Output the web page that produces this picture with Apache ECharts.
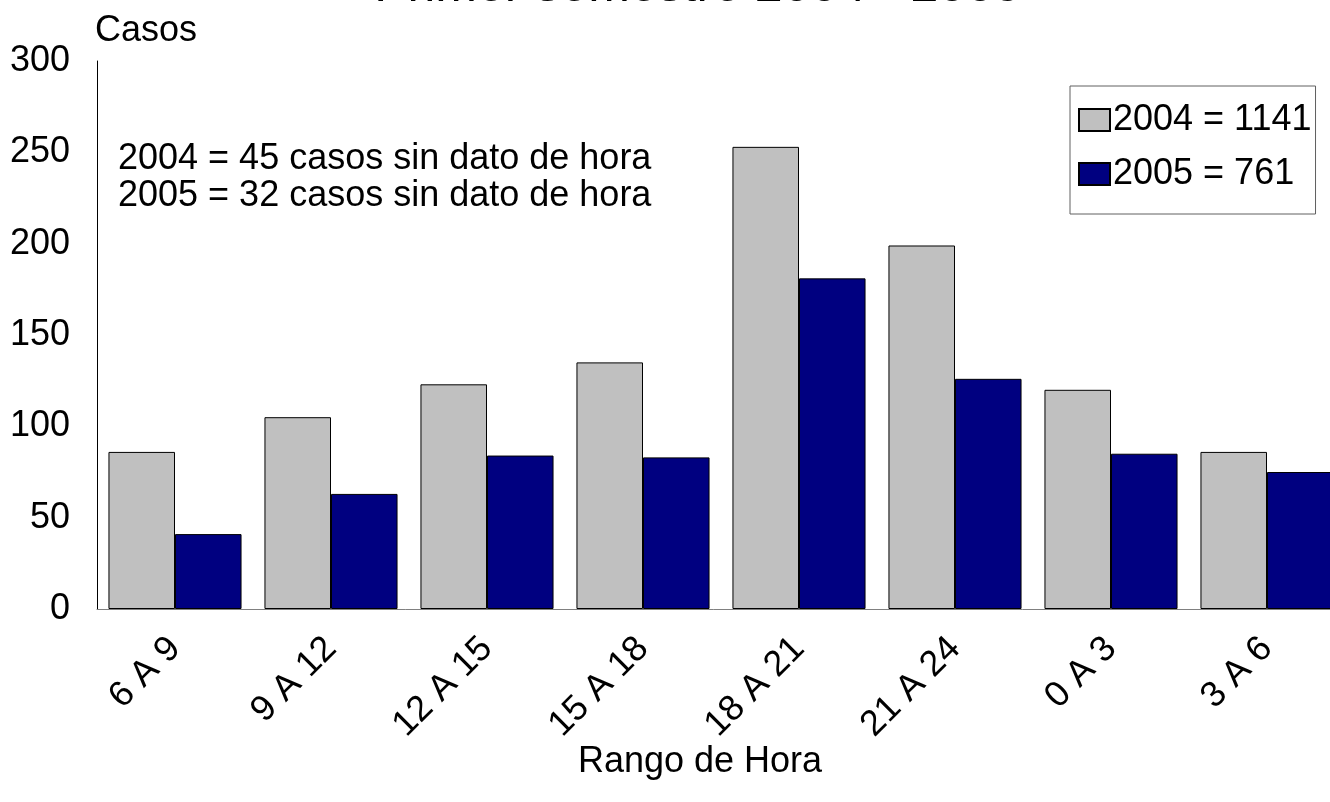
<!DOCTYPE html>
<html>
<head>
<meta charset="utf-8">
<script src="https://cdn.jsdelivr.net/npm/echarts@6/dist/echarts.min.js"></script>
<style>
html,body{margin:0;padding:0;background:#fff;}
#chart{width:1330px;height:802px;}
</style>
</head>
<body>
<div id="chart"></div>
<script>
const categories = ['6 A 9','9 A 12','12 A 15','15 A 18','18 A 21','21 A 24','0 A 3','3 A 6'];
const values2004 = [86, 105, 123, 135, 253, 199, 120, 86];
const values2005 = [41, 63, 84, 83, 181, 126, 85, 75];
const seriesNames = ['2004 = 1141', '2005 = 761'];
const titleText = 'Primer semestre 2004 - 2005';
const noteLines = ['2004 = 45 casos sin dato de hora', '2005 = 32 casos sin dato de hora'];
const yAxisName = 'Casos';
const xAxisName = 'Rango de Hora';

const FONT = '"Liberation Sans", Arial, sans-serif';
const chart = echarts.init(document.getElementById('chart'), null, {renderer: 'canvas'});
chart.setOption({
  backgroundColor: '#ffffff',
  animation: false,
  textStyle: {fontFamily: FONT},
  grid: {left: 97, top: 61, height: 548, width: 1248, containLabel: false, outerBoundsMode: 'none'},
  legend: {
    orient: 'vertical',
    left: 1070,
    top: 86,
    width: 255,
    padding: [16, 4, 22, 8],
    itemGap: 18,
    itemWidth: 31,
    itemHeight: 22,
    icon: 'rect',
    borderColor: '#606060',
    borderWidth: 1,
    backgroundColor: '#fff',
    textStyle: {fontSize: 36, color: '#000', fontFamily: FONT, padding: [0, 0, 0, -2]},
    data: seriesNames
  },
  xAxis: {
    type: 'category',
    data: categories,
    axisLine: {show: true, lineStyle: {color: '#808080', width: 1}},
    axisTick: {show: false},
    axisLabel: {rotate: 45, fontSize: 36, color: '#000', margin: 34, fontFamily: FONT, interval: 0}
  },
  yAxis: {
    type: 'value',
    min: 0,
    max: 300,
    interval: 50,
    name: yAxisName,
    nameLocation: 'end',
    nameGap: 12,
    nameTextStyle: {fontSize: 36, color: '#000', align: 'left', fontFamily: FONT, padding: [0, 0, 0, -2]},
    axisLine: {show: true, lineStyle: {color: '#000', width: 1}},
    axisTick: {show: false},
    splitLine: {show: false},
    axisLabel: {fontSize: 36, color: '#000', margin: 27, fontFamily: FONT}
  },
  series: [
    {
      name: seriesNames[0],
      type: 'bar',
      data: values2004,
      barGap: '0%',
      barCategoryGap: '14.7%',
      itemStyle: {color: '#C0C0C0', borderColor: '#000', borderWidth: 1}
    },
    {
      name: seriesNames[1],
      type: 'bar',
      data: values2005,
      barGap: '0%',
      barCategoryGap: '14.7%',
      itemStyle: {color: '#000080', borderColor: '#000', borderWidth: 1}
    }
  ],
  graphic: [
    {
      type: 'text',
      style: {text: titleText, x: 698, y: -13, textAlign: 'center', textVerticalAlign: 'middle', fontSize: 50, fill: '#000', fontFamily: FONT}
    },
    {
      type: 'text',
      style: {text: noteLines.join('\n'), x: 118, y: 141, fontSize: 36, lineHeight: 37, fill: '#000', fontFamily: FONT}
    },
    {
      type: 'text',
      style: {text: xAxisName, x: 700, y: 762, textAlign: 'center', textVerticalAlign: 'middle', fontSize: 36, fill: '#000', fontFamily: FONT}
    }
  ]
});
</script>
</body>
</html>
